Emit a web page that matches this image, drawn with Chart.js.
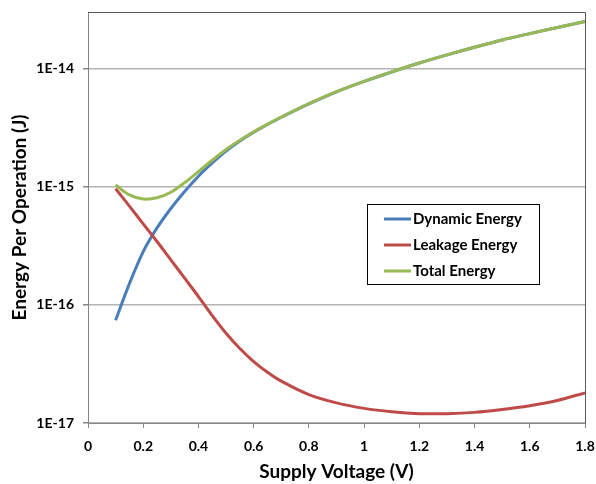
<!DOCTYPE html>
<html>
<head>
<meta charset="utf-8">
<script src="https://cdn.jsdelivr.net/npm/chart.js@4"></script>
<style>
  html, body { margin: 0; padding: 0; background: #fff; }
  #wrap { width: 596px; height: 484px; }
</style>
</head>
<body>
<div id="wrap"><canvas id="energyChart" width="596" height="484"></canvas></div>
<script>
// Data
const voltages = [0.1, 0.15, 0.2, 0.25, 0.3, 0.35, 0.4, 0.45, 0.5, 0.55, 0.6, 0.65, 0.7, 0.8, 0.9, 1.0, 1.1, 1.2, 1.3, 1.4, 1.5, 1.6, 1.7, 1.8];
const dynamicEnergy = [7.4e-17, 1.51e-16, 2.82e-16, 4.47e-16, 6.53e-16, 9.1e-16, 1.225e-15, 1.585e-15, 2.0e-15, 2.43e-15, 2.88e-15, 3.35e-15, 3.86e-15, 5.01e-15, 6.34e-15, 7.76e-15, 9.33e-15, 1.11e-14, 1.3e-14, 1.51e-14, 1.74e-14, 1.97e-14, 2.22e-14, 2.49e-14];
const leakageEnergy = [9.6e-16, 6.84e-16, 4.84e-16, 3.43e-16, 2.4e-16, 1.68e-16, 1.175e-16, 8.1e-17, 5.75e-17, 4.27e-17, 3.31e-17, 2.69e-17, 2.26e-17, 1.74e-17, 1.48e-17, 1.33e-17, 1.245e-17, 1.2e-17, 1.2e-17, 1.23e-17, 1.3e-17, 1.4e-17, 1.55e-17, 1.8e-17];
const totalEnergy = [1.03e-15, 8.5e-16, 7.85e-16, 8.05e-16, 8.95e-16, 1.08e-15, 1.34e-15, 1.67e-15, 2.06e-15, 2.47e-15, 2.91e-15, 3.38e-15, 3.88e-15, 5.03e-15, 6.35e-15, 7.77e-15, 9.34e-15, 1.11e-14, 1.3e-14, 1.51e-14, 1.74e-14, 1.97e-14, 2.22e-14, 2.49e-14];

const seriesNames = ["Dynamic Energy", "Leakage Energy", "Total Energy"];
const seriesColors = ["#4a7ebb", "#be4b48", "#98b954"];

const yTicks = [1e-17, 1e-16, 1e-15, 1e-14];
const xTicks = [0, 0.2, 0.4, 0.6, 0.8, 1, 1.2, 1.4, 1.6, 1.8];

const FONT = "Lato, 'Open Sans', sans-serif";

function toPoints(values) {
    return voltages.map((v, i) => ({ x: v, y: values[i] }));
}

// Legend box inside the plot + top/right border of plot
const boxPlugin = {
    id: "boxPlugin",
    afterDraw(chart) {
        const ctx = chart.ctx;
        const a = chart.chartArea;
        ctx.save();
        ctx.strokeStyle = "#595959";
        ctx.lineWidth = 1;
        ctx.beginPath();
        ctx.moveTo(a.left, a.top + 0.5);
        ctx.lineTo(a.right + 0.5, a.top + 0.5);
        ctx.lineTo(a.right + 0.5, a.bottom);
        ctx.stroke();

        // legend
        ctx.strokeStyle = "#000";
        ctx.strokeRect(367.5, 204.5, 172, 80);
        ctx.font = "bold 15px " + FONT;
        ctx.textBaseline = "middle";
        ctx.textAlign = "left";
        chart.data.datasets.forEach((ds, i) => {
            const y = 219 + i * 26;
            ctx.strokeStyle = ds.borderColor;
            ctx.lineWidth = 3;
            ctx.beginPath();
            ctx.moveTo(384, y);
            ctx.lineTo(411, y);
            ctx.stroke();
            ctx.fillStyle = "#000";
            ctx.fillText(ds.label, 413, y);
        });
        ctx.restore();
    }
};

new Chart(document.getElementById("energyChart"), {
    type: "line",
    data: {
        datasets: [dynamicEnergy, leakageEnergy, totalEnergy].map((vals, i) => ({
            label: seriesNames[i],
            data: toPoints(vals),
            borderColor: seriesColors[i],
            backgroundColor: seriesColors[i],
            borderWidth: 3,
            pointRadius: 0,
            tension: 0.3,
            order: 2 - i, // total energy drawn on top
            fill: false
        }))
    },
    options: {
        responsive: false,
        animation: false,
        layout: { padding: { top: 12, right: 11, left: 0, bottom: 0 } },
        plugins: {
            legend: { display: false },
            tooltip: { enabled: false }
        },
        scales: {
            x: {
                type: "linear",
                min: 0,
                max: 1.8,
                afterBuildTicks: (scale) => {
                    scale.ticks = xTicks.map(v => ({ value: v }));
                },
                afterFit: (scale) => {
                    scale.height = 61;
                    scale.paddingLeft = 0;
                    scale.paddingRight = 0;
                },
                ticks: {
                    color: "#000",
                    font: { family: FONT, size: 14, weight: "bold" },
                    padding: 10,
                    maxRotation: 0,
                    callback: (v) => String(+v.toFixed(1))
                },
                grid: {
                    drawOnChartArea: false,
                    tickLength: 5,
                    tickColor: "#868686"
                },
                border: { color: "#868686" },
                title: {
                    display: true,
                    text: "Supply Voltage (V)",
                    color: "#000",
                    font: { family: FONT, size: 19, weight: "bold" },
                    padding: { top: 2, bottom: 1 }
                }
            },
            y: {
                type: "logarithmic",
                min: 1e-17,
                max: 3e-14,
                afterBuildTicks: (scale) => {
                    scale.ticks = yTicks.map(v => ({ value: v }));
                },
                afterFit: (scale) => {
                    scale.width = 88;
                    scale.paddingTop = 0;
                    scale.paddingBottom = 0;
                },
                ticks: {
                    color: "#000",
                    font: { family: FONT, size: 14, weight: "bold" },
                    padding: 9,
                    callback: (v) => "1E" + Math.round(Math.log10(v))
                },
                grid: {
                    color: "#b3b3b3",
                    lineWidth: 1.5,
                    tickLength: 5,
                    tickColor: "#868686"
                },
                border: { color: "#868686" },
                title: {
                    display: true,
                    text: "Energy Per Operation (J)",
                    color: "#000",
                    font: { family: FONT, size: 19, weight: "bold" },
                    padding: { top: 8, bottom: 0 }
                }
            }
        }
    },
    plugins: [boxPlugin]
});
</script>
</body>
</html>
